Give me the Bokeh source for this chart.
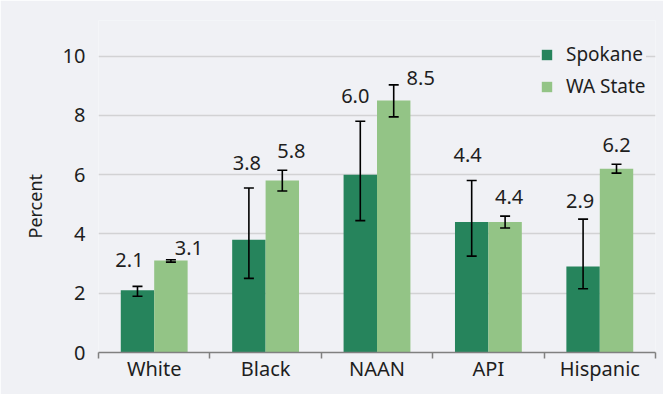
from bokeh.plotting import figure
from bokeh.models import (ColumnDataSource, FixedTicker, Whisker, TeeHead, Legend, LegendItem, Range1d, Title)
from bokeh.core.properties import value
from bokeh.embed import file_html
from bokeh.resources import INLINE

categories = ["White", "Black", "NAAN", "API", "Hispanic"]
spokane = [2.1, 3.8, 6.0, 4.4, 2.9]
spokane_lo = [1.90, 2.50, 4.45, 3.25, 2.15]
spokane_hi = [2.23, 5.55, 7.80, 5.80, 4.50]
wa_state = [3.1, 5.8, 8.5, 4.4, 6.2]
wa_lo = [3.05, 5.45, 7.95, 4.20, 6.05]
wa_hi = [3.13, 6.15, 9.03, 4.60, 6.35]
y_ticks = [0, 2, 4, 6, 8, 10]

# label pixel offsets relative to (bar centre, top of error bar)
sp_dx = [-8, -2, -5, -4, -3]
sp_dy = [26, 25, 25, 26, 18]
wa_dx = [18, 9, 27, 4, 0]
wa_dy = [12, 19, 7, 19, 19]

BG = "#f0f1f5"
DARK = "#26845c"
LIGHT = "#93c486"
FONT = "Noto Sans"
TXT = "#1e1e1e"
FS = "20px"

n = len(categories)
centers = [i + 0.5 for i in range(n)]
bw = 0.3

src_sp = ColumnDataSource(dict(
    x=[c - bw / 2 for c in centers], top=spokane, lo=spokane_lo, hi=spokane_hi,
    lab=[f"{v:.1f}" for v in spokane], dx=sp_dx, dy=[-d for d in sp_dy]))
src_wa = ColumnDataSource(dict(
    x=[c + bw / 2 for c in centers], top=wa_state, lo=wa_lo, hi=wa_hi,
    lab=[f"{v:.1f}" for v in wa_state], dx=wa_dx, dy=[-d for d in wa_dy]))

p = figure(width=663, height=394, output_backend="svg", toolbar_location=None,
           x_range=Range1d(0, n), y_range=Range1d(0, 11.2),
           min_border_left=98, min_border_right=8, min_border_top=20, min_border_bottom=42)
p.background_fill_color = BG
p.border_fill_color = BG
p.outline_line_color = None

r1 = p.vbar(x="x", top="top", width=bw, source=src_sp, fill_color=DARK, line_color=None)
r2 = p.vbar(x="x", top="top", width=bw, source=src_wa, fill_color=LIGHT, line_color=None)

for src in (src_sp, src_wa):
    w = Whisker(base="x", upper="hi", lower="lo", source=src, line_color="black", line_width=1.6,
                level="overlay",
                upper_head=TeeHead(size=10, line_color="black", line_width=1.6),
                lower_head=TeeHead(size=10, line_color="black", line_width=1.6))
    p.add_layout(w)
    p.text(x="x", y="hi", text="lab", x_offset="dx", y_offset="dy", source=src,
           text_align="center", text_baseline="middle", text_font=value(FONT),
           text_font_size=FS, text_color=TXT)

# axes
p.xaxis.ticker = FixedTicker(ticks=centers, minor_ticks=list(range(n + 1)))
p.xaxis.major_label_overrides = {c: lab for c, lab in zip(centers, categories)}
p.xaxis.major_tick_line_color = None
p.xaxis.major_tick_out = 0
p.xaxis.minor_tick_line_color = "#808080"
p.xaxis.minor_tick_line_width = 1.5
p.xaxis.minor_tick_out = 6
p.xaxis.minor_tick_in = 0
p.xaxis.axis_line_color = "#808080"
p.xaxis.axis_line_width = 1.5
p.xaxis.major_label_standoff = -4
p.xaxis.major_label_text_font = FONT
p.xaxis.major_label_text_font_size = FS
p.xaxis.major_label_text_color = TXT

p.yaxis.ticker = FixedTicker(ticks=y_ticks)
p.yaxis.axis_line_color = None
p.yaxis.major_tick_line_color = None
p.yaxis.minor_tick_line_color = None
p.yaxis.major_tick_out = 0
p.yaxis.major_label_standoff = 13
p.yaxis.major_label_text_font = FONT
p.yaxis.major_label_text_font_size = FS
p.yaxis.major_label_text_color = TXT

# y-axis title, placed along the 0-10 band
p.add_layout(Title(text="Percent", align="left", offset=114, standoff=26,
                   text_font=FONT, text_font_size="18px", text_font_style="normal",
                   text_color=TXT), "left")

p.xgrid.grid_line_color = None
p.ygrid.grid_line_color = "#d2d2d4"
p.ygrid.grid_line_width = 1.5

legend = Legend(items=[LegendItem(label="Spokane", renderers=[r1]),
                       LegendItem(label="WA State", renderers=[r2])],
                location=(442, 253), orientation="vertical",
                background_fill_color=BG, background_fill_alpha=1.0,
                border_line_color=None, padding=14, margin=0,
                glyph_width=13, glyph_height=13, label_standoff=13,
                label_height=20, spacing=6,
                label_text_font=FONT, label_text_font_size="19px", label_text_color=TXT)
p.add_layout(legend)

open("out.html", "w").write(file_html(p, INLINE))
